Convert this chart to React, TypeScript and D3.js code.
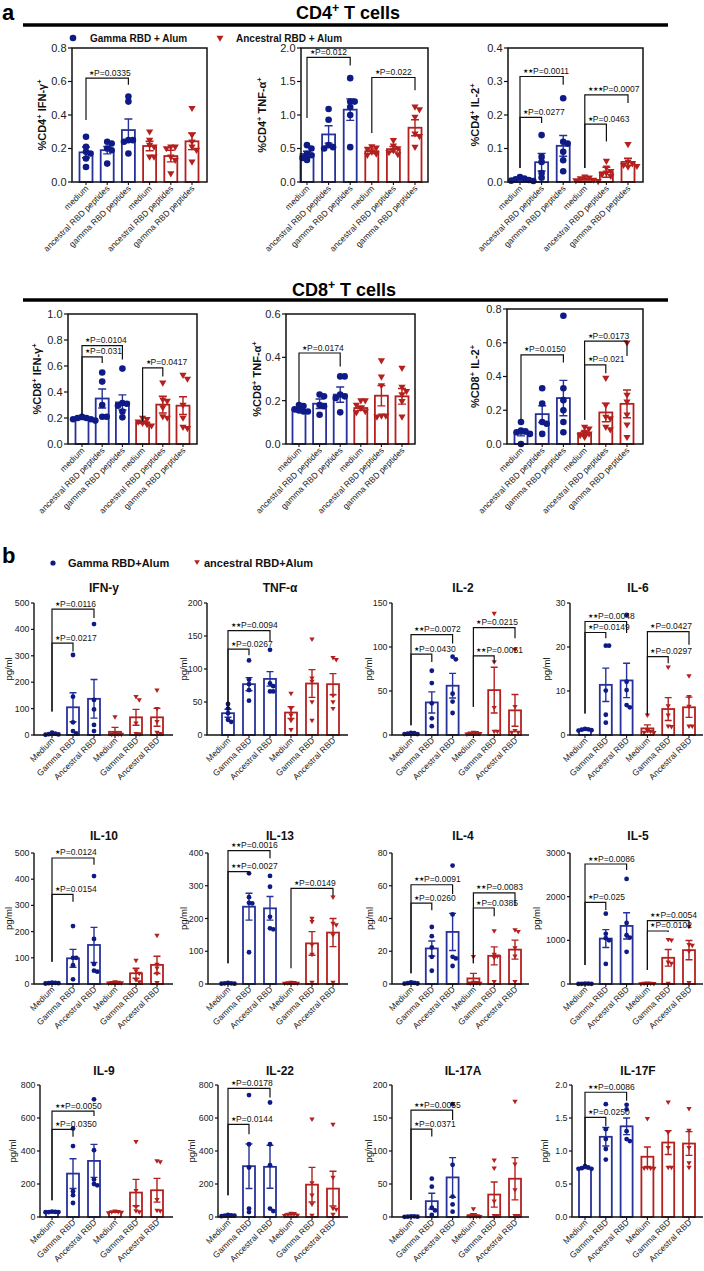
import React from "react";
import * as d3 from "d3";

// ---------------- categories ----------------
const catsA = ["medium", "ancestral RBD peptides", "gamma RBD peptides", "medium", "ancestral RBD peptides", "gamma RBD peptides"];
const catsB = ["Medium", "Gamma RBD", "Ancestral RBD", "Medium", "Gamma RBD", "Ancestral RBD"];

// bracket: [fromIdx, toIdx, yTop, yLeftEnd, yRightEnd, stars, p]
type Br = [number, number, number, number, number, number, string];

// ---------------- panel a : CD4 ----------------
const cd4IfnMean = [0.177, 0.19, 0.31, 0.215, 0.155, 0.243];
const cd4IfnSem = [0.032, 0.022, 0.066, 0.028, 0.035, 0.05];
const cd4IfnPts = [[0.27, 0.21, 0.18, 0.17, 0.14, 0.09], [0.24, 0.23, 0.2, 0.19, 0.11], [0.51, 0.48, 0.25, 0.25, 0.24, 0.17], [0.3, 0.25, 0.22, 0.21, 0.15, 0.15], [0.21, 0.21, 0.2, 0.15, 0.13, 0.05], [0.44, 0.28, 0.24, 0.21, 0.19, 0.12]];
const cd4IfnSig: Br[] = [[0, 2, 0.62, 0.37, 0.58, 1, "0.0335"]];

const cd4TnfMean = [0.418, 0.71, 1.08, 0.46, 0.49, 0.81];
const cd4TnfSem = [0.04, 0.13, 0.16, 0.035, 0.04, 0.12];
const cd4TnfPts = [[0.55, 0.5, 0.42, 0.4, 0.36, 0.33], [1.09, 0.93, 0.55, 0.52, 0.5], [1.55, 1.2, 1.2, 1.12, 1.0, 0.52], [0.53, 0.51, 0.49, 0.45, 0.42, 0.4], [0.62, 0.54, 0.5, 0.47, 0.44, 0.41], [1.12, 1.08, 0.97, 0.72, 0.68, 0.52]];
const cd4TnfSig: Br[] = [[0, 2, 1.86, 0.955, 1.74, 1, "0.012"], [3, 5, 1.56, 0.73, 1.37, 1, "0.022"]];

const cd4Il2Mean = [0.007, 0.059, 0.108, 0.008, 0.029, 0.06];
const cd4Il2Sem = [0.002, 0.026, 0.031, 0.002, 0.015, 0.011];
const cd4Il2Pts = [[0.015, 0.01, 0.008, 0.006, 0.004, 0.003], [0.14, 0.075, 0.06, 0.027, 0.013], [0.25, 0.12, 0.115, 0.09, 0.065, 0.032], [0.015, 0.012, 0.01, 0.006, 0.004, 0.002], [0.062, 0.042, 0.032, 0.027, 0.022, 0.017], [0.112, 0.06, 0.055, 0.05, 0.047, 0.045]];
const cd4Il2Sig: Br[] = [[0, 2, 0.315, 0.042, 0.29, 2, "0.0011"], [0, 1, 0.193, 0.042, 0.176, 1, "0.0277"], [3, 5, 0.26, 0.042, 0.236, 3, "0.0007"], [3, 4, 0.173, 0.042, 0.121, 1, "0.0463"]];

// ---------------- panel a : CD8 ----------------
const cd8IfnMean = [0.195, 0.35, 0.32, 0.167, 0.303, 0.295];
const cd8IfnSem = [0.006, 0.073, 0.058, 0.01, 0.064, 0.068];
const cd8IfnPts = [[0.21, 0.2, 0.2, 0.19, 0.19, 0.18], [0.55, 0.48, 0.3, 0.21, 0.21], [0.58, 0.315, 0.31, 0.295, 0.25, 0.205], [0.2, 0.19, 0.17, 0.16, 0.15, 0.14], [0.47, 0.34, 0.33, 0.28, 0.21, 0.2], [0.53, 0.5, 0.3, 0.2, 0.13, 0.12]];
const cd8IfnSig: Br[] = [[0, 2, 0.757, 0.226, 0.65, 1, "0.0104"], [0, 1, 0.67, 0.226, 0.623, 1, "0.031"], [3, 4, 0.585, 0.174, 0.52, 1, "0.0417"]];

const cd8TnfMean = [0.155, 0.186, 0.228, 0.166, 0.223, 0.22];
const cd8TnfSem = [0.006, 0.022, 0.035, 0.01, 0.047, 0.036];
const cd8TnfPts = [[0.18, 0.175, 0.16, 0.155, 0.15, 0.15], [0.228, 0.22, 0.18, 0.174, 0.135], [0.312, 0.312, 0.228, 0.22, 0.212, 0.146], [0.2, 0.2, 0.18, 0.165, 0.15, 0.145], [0.385, 0.31, 0.27, 0.13, 0.13, 0.125], [0.35, 0.263, 0.243, 0.228, 0.197, 0.125]];
const cd8TnfSig: Br[] = [[0, 2, 0.42, 0.192, 0.358, 1, "0.0174"]];

const cd8Il2Mean = [0.061, 0.177, 0.272, 0.065, 0.187, 0.238];
const cd8Il2Sem = [0.013, 0.05, 0.105, 0.01, 0.055, 0.082];
const cd8Il2Pts = [[0.13, 0.08, 0.075, 0.07, 0.06, 0.0], [0.33, 0.24, 0.13, 0.12, 0.06], [0.76, 0.33, 0.26, 0.2, 0.13, 0.07], [0.1, 0.09, 0.07, 0.06, 0.05, 0.04], [0.39, 0.23, 0.16, 0.15, 0.1, 0.085], [0.6, 0.29, 0.25, 0.173, 0.114, 0.04]];
const cd8Il2Sig: Br[] = [[0, 2, 0.528, 0.144, 0.483, 1, "0.0150"], [3, 5, 0.61, 0.144, 0.522, 1, "0.0173"], [3, 4, 0.469, 0.144, 0.42, 1, "0.021"]];

// ---------------- panel b : cytokines (pg/ml) ----------------
const ifnMean = [3, 105, 137, 12, 67, 67];
const ifnSem = [1.5, 55, 73, 17, 30, 34];
const ifnPts = [[9, 5, 3, 2, 1], [303, 145, 48, 15, 6], [420, 133, 97, 38, 15], [68, 5, 3, 2, 2], [145, 133, 45, 5, 4], [170, 100, 50, 10, 5]];
const ifnSig: Br[] = [[0, 2, 477, 89, 443, 1, "0.0116"], [0, 1, 348, 89, 316, 1, "0.0217"]];

const tnfMean = [33, 77, 85, 34, 78, 77];
const tnfSem = [6, 10, 11, 9, 21, 16];
const tnfPts = [[47, 40, 33, 23, 20], [113, 84, 77, 68, 52], [129, 78, 74, 66, 66], [63, 40, 30, 22, 8], [145, 86, 81, 50, 22], [117, 114, 60, 50, 40]];
const tnfSig: Br[] = [[0, 2, 158, 38, 142, 2, "0.0094"], [0, 1, 130, 38, 121, 1, "0.0267"]];

const il2Mean = [1.5, 37, 56, 2, 51, 28];
const il2Sem = [0.5, 12, 14, 0.5, 26, 18];
const il2Pts = [[2.5, 2, 1.5, 1, 1], [73, 59, 36, 19, 10], [89, 86, 47, 38, 25], [3, 2.5, 2, 1.5, 1], [138, 83, 31, 4, 4], [97, 32, 5, 3, 3]];
const il2Sig: Br[] = [[0, 2, 114, 11, 104, 2, "0.0072"], [0, 1, 92, 11, 83, 1, "0.0430"], [3, 5, 122, 32, 110, 1, "0.0215"], [3, 4, 90, 32, 82, 2, "0.0051"]];

const il6Mean = [1.2, 11.4, 12.4, 1.5, 5.9, 6.3];
const il6Sem = [0.1, 3.8, 3.9, 0.8, 2.6, 2.3];
const il6Pts = [[1.4, 1.3, 1.2, 1.1, 1.0], [20.3, 20.3, 10.1, 4.6, 2.8], [27.3, 12.1, 10.2, 6.8, 6.3], [4.5, 1, 0.8, 0.6, 0.5], [15.4, 6.6, 4.5, 2, 1.9], [13.4, 8.7, 6.5, 2.0, 2.0]];
const il6Sig: Br[] = [[0, 2, 25.8, 4.9, 23.2, 2, "0.0048"], [0, 1, 23.3, 4.9, 22.0, 1, "0.0149"], [3, 5, 23.5, 4.6, 20.5, 1, "0.0427"], [3, 4, 17.8, 4.6, 16.3, 1, "0.0297"]];

const il10Mean = [3, 98, 149, 5, 41, 73];
const il10Sem = [0.5, 34, 67, 1, 19, 33];
const il10Pts = [[5, 4, 3, 3, 2], [221, 100, 100, 72, 18], [412, 172, 76, 51, 47], [8, 6, 5, 4, 3], [90, 50, 40, 15, 8], [185, 75, 60, 40, 5]];
const il10Sig: Br[] = [[0, 2, 481, 85, 455, 1, "0.0124"], [0, 1, 342, 85, 314, 1, "0.0154"]];

const il13Mean = [2, 236, 231, 3, 124, 157];
const il13Sem = [0.5, 41, 36, 0.5, 36, 43];
const il13Pts = [[3, 2, 2, 1, 1], [338, 265, 248, 246, 97], [330, 297, 205, 170, 167], [5, 4, 3, 2, 2], [200, 190, 120, 90, 5], [265, 185, 180, 150, 5]];
const il13Sig: Br[] = [[0, 2, 407, 63, 384, 2, "0.0016"], [0, 1, 343, 63, 333, 2, "0.0027"], [3, 5, 292, 48, 269, 1, "0.0149"]];

const il4Mean = [0.5, 21.7, 31.8, 3.4, 17.2, 21];
const il4Sem = [0.15, 4.6, 11.3, 3.1, 5.5, 5.8];
const il4Pts = [[1, 0.7, 0.5, 0.3, 0.2], [34.8, 29.2, 22.3, 16.6, 8.1], [72.3, 42.5, 16.6, 15.6, 11], [16.6, 1, 0.8, 0.5, 0.3], [32.4, 18, 17, 16, 1.4], [33, 32, 22, 17, 1.4]];
const il4Sig: Br[] = [[0, 2, 60.6, 6.5, 55, 2, "0.0091"], [0, 1, 49.4, 6.5, 45, 1, "0.0260"], [3, 5, 55.7, 12.6, 48, 2, "0.0083"], [3, 4, 46.4, 12.6, 41.3, 1, "0.0385"]];

const il5Mean = [5, 1040, 1330, 10, 600, 775];
const il5Sem = [2, 205, 300, 4, 190, 220];
const il5Pts = [[10, 8, 5, 3, 2], [1610, 1150, 1050, 1000, 460], [2407, 1397, 1116, 1063, 737], [20, 15, 10, 5, 3], [1017, 1002, 500, 470, 15], [1320, 900, 880, 750, 30]];
const il5Sig: Br[] = [[0, 2, 2748, 435, 2610, 2, "0.0086"], [0, 1, 1871, 435, 1695, 1, "0.025"], [3, 5, 1450, 320, 1275, 2, "0.0054"], [3, 4, 1214, 320, 1190, 1, "0.0102"]];

const il9Mean = [30, 263, 340, 30, 148, 162];
const il9Sem = [1, 90, 100, 2, 80, 72];
const il9Pts = [[32, 31, 30, 30, 29], [537, 430, 156, 132, 85], [713, 405, 227, 200, 192], [35, 32, 30, 28, 25], [456, 160, 60, 36, 30], [340, 334, 105, 40, 36]];
const il9Sig: Br[] = [[0, 2, 642, 101, 612, 2, "0.0050"], [0, 1, 531, 101, 486, 1, "0.0350"]];

const il22Mean = [10, 308, 304, 16, 196, 172];
const il22Sem = [1.5, 135, 130, 3, 105, 105];
const il22Pts = [[12, 10, 8, 8, 5], [739, 441, 300, 51, 30], [694, 441, 314, 51, 36], [22, 20, 15, 10, 8], [593, 207, 132, 77, 10], [561, 239, 51, 45, 15]];
const il22Sig: Br[] = [[0, 2, 780, 132, 725, 1, "0.0178"], [0, 1, 561, 132, 502, 1, "0.0144"]];

const il17aMean = [0.5, 24, 60, 2.6, 34, 58];
const il17aSem = [0.1, 12, 30, 2.5, 19, 32];
const il17aPts = [[1, 1, 0.5, 0.5, 0.3], [58, 46, 14, 10, 3], [171, 79, 31, 19, 8], [12, 2, 1, 1, 0.5], [86, 74, 24, 2, 2], [175, 80, 41, 2, 2]];
const il17aSig: Br[] = [[0, 2, 162, 25.6, 147, 2, "0.0055"], [0, 1, 133, 25.6, 122, 1, "0.0371"]];

const il17fMean = [0.744, 1.215, 1.374, 0.913, 1.128, 1.113];
const il17fSem = [0.01, 0.14, 0.126, 0.147, 0.18, 0.18];
const il17fPts = [[0.77, 0.75, 0.74, 0.73, 0.73], [1.71, 1.33, 1.18, 1.03, 0.87], [1.7, 1.63, 1.3, 1.18, 1.15], [1.49, 0.745, 0.74, 0.74, 0.735], [1.74, 1.28, 1.05, 0.75, 0.75], [1.64, 1.31, 1.05, 0.82, 0.75]];
const il17fSig: Br[] = [[0, 2, 1.89, 0.78, 1.76, 2, "0.0086"], [0, 1, 1.51, 0.78, 1.38, 1, "0.0250"]];

// ---------------- styling ----------------
const FONT = "'Liberation Sans', Arial, Helvetica, sans-serif";
const BLUE = "#27319a";
const BLUE_DOT = "#0e1a86";
const RED = "#b3201e";
const INK = "#111";

type Part = [string, boolean];
type PanelCfg = {
  kind: "a" | "b";
  L: number; R: number; T: number; B: number; first: number; last: number;
  yMax: number; step: number; fmt: string;
  means: number[]; sems: number[]; pts: number[][]; sig: Br[];
  cats: string[];
  ylab: Part[]; ylabX: number;
  title?: string; titleX?: number; titleY?: number;
};

function SupText({ parts, size }: { parts: Part[]; size: number }) {
  let shift = 0;
  const out: React.ReactNode[] = [];
  parts.forEach(([t, sup], i) => {
    const target = sup ? -size * 0.38 : 0;
    const dy = target - shift;
    shift = target;
    out.push(
      <tspan key={i} dy={dy} fontSize={sup ? size * 0.68 : size}>{t}</tspan>
    );
  });
  return <>{out}</>;
}

function swarm(vals: number[], ys: (v: number) => number, t: number): number[] {
  const idx = vals.map((_, i) => i).sort((a, b) => vals[b] - vals[a]);
  const placed: [number, number][] = [];
  const out = new Array(vals.length).fill(0);
  const cands = [0, 1, -1, 2, -2, 3, -3];
  for (const i of idx) {
    const py = ys(vals[i]);
    let best = 0;
    for (const c of cands) {
      const px = c * t;
      if (placed.every(([qx, qy]) => Math.hypot(qx - px, qy - py) >= t * 0.98)) { best = px; break; }
    }
    placed.push([best, py]);
    out[i] = best;
  }
  return out;
}

function Panel({ c }: { c: PanelCfg }) {
  const A = c.kind === "a";
  const y = d3.scaleLinear().domain([0, c.yMax]).range([c.B, c.T]);
  const x = d3.scalePoint<number>().domain(d3.range(c.cats.length)).range([c.first, c.last]);
  const ticks = d3.range(0, c.yMax + c.step / 2, c.step);
  const fmt = d3.format(c.fmt);
  const bw = A ? 13 : 12;
  const r = A ? 3.3 : 2.4;
  const capW = A ? 8 : 7;
  const col = (i: number) => (i < 3 ? BLUE : RED);
  const tickFs = A ? 11 : 8.8;
  const tickLen = A ? 4 : 3;
  const labFs = 8.5;
  const ylabFs = A ? 11 : 9.5;

  return (
    <g>
      {c.means.map((m, i) => (
        <rect key={"b" + i} x={x(i)! - bw / 2} y={y(m)} width={bw} height={Math.max(0, c.B - y(m))}
          fill="#fff" stroke={col(i)} strokeWidth={1.8} />
      ))}
      {c.means.map((m, i) => {
        const cx = x(i)!;
        const lo = y(Math.max(0, m - c.sems[i]));
        const hi = y(m + c.sems[i]);
        return (
          <path key={"e" + i}
            d={`M${cx},${lo}V${hi}M${cx - capW / 2},${hi}H${cx + capW / 2}M${cx - capW / 2},${lo}H${cx + capW / 2}`}
            stroke={col(i)} strokeWidth={1.4} fill="none" />
        );
      })}
      {c.pts.map((g, i) => {
        const cx = x(i)!;
        const offs = swarm(g, y, r * 1.35);
        return g.map((v, j) => {
          const px = cx + offs[j];
          const py = y(v);
          if (i < 3) return <circle key={`p${i}-${j}`} cx={px} cy={py} r={r} fill={BLUE_DOT} />;
          const h = r * 1.1;
          return <path key={`p${i}-${j}`} d={`M${px - h},${py - 0.65 * h}L${px + h},${py - 0.65 * h}L${px},${py + 1.05 * h}Z`} fill={RED} />;
        });
      })}
      {A ? (
        <rect x={c.L} y={c.T} width={c.R - c.L} height={c.B - c.T} fill="none" stroke={INK} strokeWidth={1.5} />
      ) : (
        <path d={`M${c.L},${c.T}V${c.B}H${c.R}`} fill="none" stroke={INK} strokeWidth={1.4} />
      )}
      {ticks.map((t, i) => (
        <g key={"t" + i}>
          <line x1={c.L - tickLen} x2={c.L} y1={y(t)} y2={y(t)} stroke={INK} strokeWidth={1.2} />
          <text x={c.L - tickLen - 1.5} y={y(t)} dy="0.35em" textAnchor="end" fontSize={tickFs} fill="#222">{fmt(t)}</text>
        </g>
      ))}
      {c.cats.map((name, i) => (
        <g key={"x" + i}>
          <line x1={x(i)!} x2={x(i)!} y1={c.B} y2={c.B + 3} stroke={INK} strokeWidth={1.1} />
          <text transform={`translate(${x(i)! + 3},${c.B + (A ? 7 : 6)}) rotate(-45)`} textAnchor="end"
            fontSize={labFs} fill="#222">{name}</text>
        </g>
      ))}
      <text transform={`translate(${c.ylabX + (A ? 4 : 3)},${(c.T + c.B) / 2}) rotate(-90)`} textAnchor="middle"
        fontSize={ylabFs} fontWeight={A ? "bold" : "normal"} fill="#111">
        <SupText parts={c.ylab} size={ylabFs} />
      </text>
      {c.sig.map(([a, b, yt, yl, yr, stars, p], k) => {
        const xl = x(a)!;
        const xr = x(b)!;
        return (
          <g key={"s" + k}>
            <path d={`M${xl},${y(yl)}V${y(yt)}H${xr}V${y(yr)}`} fill="none" stroke={INK} strokeWidth={1.2} />
            <text x={xl + 3} y={y(yt) - 2.5} fontSize={labFs} fill="#111">
              <tspan fontSize={6} dy={-1}>{"★".repeat(stars)}</tspan>
              <tspan dy={1}>{"P=" + p}</tspan>
            </text>
          </g>
        );
      })}
      {c.title ? (
        <text x={c.titleX} y={c.titleY} textAnchor="middle" fontSize={12} fontWeight="bold" fill="#111">{c.title}</text>
      ) : null}
    </g>
  );
}

const pgml: Part[] = [["pg/ml", false]];

const panelsA: PanelCfg[] = [
  { kind: "a", L: 72, R: 207, T: 48, B: 182, first: 86, last: 192, yMax: 0.8, step: 0.2, fmt: ".1f",
    means: cd4IfnMean, sems: cd4IfnSem, pts: cd4IfnPts, sig: cd4IfnSig, cats: catsA,
    ylab: [["%CD4", false], ["+", true], [" IFN-γ", false], ["+", true]], ylabX: 42 },
  { kind: "a", L: 301, R: 428, T: 48, B: 182, first: 307, last: 415, yMax: 2.0, step: 0.5, fmt: ".1f",
    means: cd4TnfMean, sems: cd4TnfSem, pts: cd4TnfPts, sig: cd4TnfSig, cats: catsA,
    ylab: [["%CD4", false], ["+", true], [" TNF-α", false], ["+", true]], ylabX: 262 },
  { kind: "a", L: 508, R: 643, T: 48, B: 182, first: 520, last: 628, yMax: 0.4, step: 0.1, fmt: ".1f",
    means: cd4Il2Mean, sems: cd4Il2Sem, pts: cd4Il2Pts, sig: cd4Il2Sig, cats: catsA,
    ylab: [["%CD4", false], ["+", true], [" IL-2", false], ["+", true]], ylabX: 475 },
  { kind: "a", L: 68, R: 197, T: 314, B: 444, first: 82, last: 183, yMax: 1.0, step: 0.2, fmt: ".1f",
    means: cd8IfnMean, sems: cd8IfnSem, pts: cd8IfnPts, sig: cd8IfnSig, cats: catsA,
    ylab: [["%CD8", false], ["+", true], [" IFN-γ", false], ["+", true]], ylabX: 37 },
  { kind: "a", L: 286, R: 415, T: 314, B: 444, first: 299, last: 402, yMax: 0.6, step: 0.2, fmt: ".1f",
    means: cd8TnfMean, sems: cd8TnfSem, pts: cd8TnfPts, sig: cd8TnfSig, cats: catsA,
    ylab: [["%CD8", false], ["+", true], [" TNF-α", false], ["+", true]], ylabX: 257 },
  { kind: "a", L: 507, R: 643, T: 309, B: 444, first: 521, last: 627, yMax: 0.8, step: 0.2, fmt: ".1f",
    means: cd8Il2Mean, sems: cd8Il2Sem, pts: cd8Il2Pts, sig: cd8Il2Sig, cats: catsA,
    ylab: [["%CD8", false], ["+", true], [" IL-2", false], ["+", true]], ylabX: 475 },
];

const colB = [
  { first: 52, last: 157, R: 173, titleX: 104 },
  { first: 228, last: 333, R: 348, titleX: 280 },
  { first: 411, last: 515, R: 529, titleX: 463 },
  { first: 585, last: 689, R: 703, titleX: 638 },
];
const rowB = [
  { T: 603, B: 735, titleY: 592, L: [34, 207, 392, 570], ylabX: [9, 184, 369, 547] },
  { T: 853, B: 984, titleY: 840, L: [34, 208, 392, 570], ylabX: [9, 184, 370, 537] },
  { T: 1085, B: 1217, titleY: 1075, L: [40, 218, 392, 572], ylabX: [13, 192, 369, 545] },
];
const cytoNames = ["IFN-y", "TNF-α", "IL-2", "IL-6", "IL-10", "IL-13", "IL-4", "IL-5", "IL-9", "IL-22", "IL-17A", "IL-17F"];
const cytoMax = [500, 200, 150, 30, 500, 400, 80, 3000, 800, 800, 200, 2.0];
const cytoStep = [100, 50, 50, 10, 100, 100, 20, 1000, 200, 200, 50, 0.5];
const cytoData: [number[], number[], number[][], Br[]][] = [
  [ifnMean, ifnSem, ifnPts, ifnSig], [tnfMean, tnfSem, tnfPts, tnfSig], [il2Mean, il2Sem, il2Pts, il2Sig], [il6Mean, il6Sem, il6Pts, il6Sig],
  [il10Mean, il10Sem, il10Pts, il10Sig], [il13Mean, il13Sem, il13Pts, il13Sig], [il4Mean, il4Sem, il4Pts, il4Sig], [il5Mean, il5Sem, il5Pts, il5Sig],
  [il9Mean, il9Sem, il9Pts, il9Sig], [il22Mean, il22Sem, il22Pts, il22Sig], [il17aMean, il17aSem, il17aPts, il17aSig], [il17fMean, il17fSem, il17fPts, il17fSig],
];

const panelsB: PanelCfg[] = cytoNames.map((name, k) => {
  const ri = Math.floor(k / 4);
  const ci = k % 4;
  const rw = rowB[ri];
  const cl = colB[ci];
  const [means, sems, pts, sig] = cytoData[k];
  return {
    kind: "b", L: rw.L[ci], R: cl.R, T: rw.T, B: rw.B, first: cl.first, last: cl.last,
    yMax: cytoMax[k], step: cytoStep[k], fmt: cytoMax[k] < 5 ? ".1f" : "d",
    means, sems, pts, sig, cats: catsB, ylab: pgml, ylabX: rw.ylabX[ci],
    title: name, titleX: cl.titleX, titleY: rw.titleY,
  };
});

function Tri({ x, y, h }: { x: number; y: number; h: number }) {
  return <path d={`M${x - h},${y - 0.65 * h}L${x + h},${y - 0.65 * h}L${x},${y + 1.05 * h}Z`} fill={RED} />;
}

export default function App() {
  return (
    <svg width={704} height={1271} viewBox="0 0 704 1271"
      style={{ position: "absolute", left: 0, top: 0, background: "#fff", fontFamily: FONT }}>
      <rect x={0} y={0} width={704} height={1271} fill="#fff" />
      <text x={2} y={20} fontSize={22} fontWeight="bold" fill="#000">a</text>
      <text x={348} y={19} textAnchor="middle" fontSize={18} fontWeight="bold" fill="#000">
        <SupText parts={[["CD4", false], ["+", true], [" T cells", false]]} size={18} />
      </text>
      <line x1={23} x2={668} y1={25} y2={25} stroke="#000" strokeWidth={3.5} />
      <circle cx={73} cy={38} r={3.3} fill={BLUE_DOT} />
      <text x={90} y={42} fontSize={10} fontWeight="bold" fill="#111">Gamma RBD + Alum</text>
      <Tri x={220} y={38} h={3.5} />
      <text x={236} y={42} fontSize={10} fontWeight="bold" fill="#111">Ancestral RBD + Alum</text>

      <text x={344} y={296} textAnchor="middle" fontSize={18} fontWeight="bold" fill="#000">
        <SupText parts={[["CD8", false], ["+", true], [" T cells", false]]} size={18} />
      </text>
      <line x1={23} x2={668} y1={300} y2={300} stroke="#000" strokeWidth={3.5} />

      {panelsA.map((p, i) => <Panel key={"a" + i} c={p} />)}

      <text x={2} y={563} fontSize={22} fontWeight="bold" fill="#000">b</text>
      <circle cx={53} cy={563} r={2.6} fill={BLUE_DOT} />
      <text x={68} y={567} fontSize={11} fontWeight="bold" fill="#111">Gamma RBD+Alum</text>
      <Tri x={197} y={562} h={2.8} />
      <text x={204} y={567} fontSize={11} fontWeight="bold" fill="#111">ancestral RBD+Alum</text>

      {panelsB.map((p, i) => <Panel key={"b" + i} c={p} />)}
    </svg>
  );
}
